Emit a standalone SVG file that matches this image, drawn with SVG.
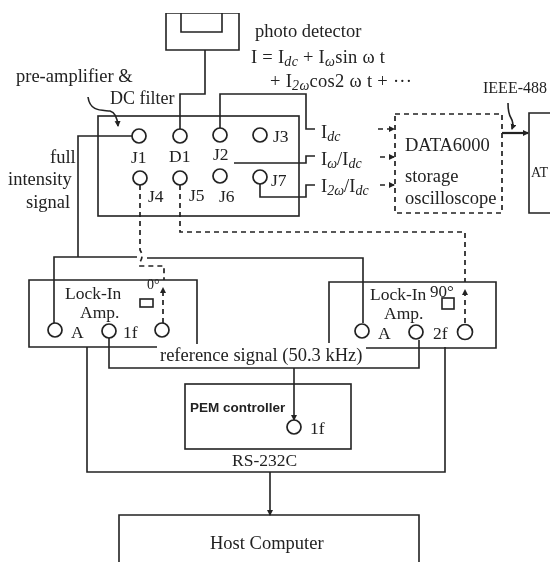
<svg xmlns="http://www.w3.org/2000/svg" width="550" height="562" viewBox="0 0 550 562">
<style>
.l{fill:none;stroke:#222;stroke-width:1.6}
.d{fill:none;stroke:#222;stroke-width:1.7;stroke-dasharray:5 4}
.c{fill:#fff;stroke:#222;stroke-width:1.7}
text{font-family:"Liberation Serif",serif;font-size:18.5px;fill:#222}
.m{font-size:17.5px}
.s{font-size:14px}
.i{font-style:italic;font-size:14px}
.pem{font-family:"Liberation Sans",sans-serif;font-size:13.5px;font-weight:bold}
</style>
<defs>
<filter id="blur" x="0" y="0" width="100%" height="100%"><feGaussianBlur stdDeviation="0.45"/></filter>
<marker id="a" markerWidth="6" markerHeight="7" refX="5" refY="3" orient="auto" markerUnits="userSpaceOnUse"><path d="M0 0L6 3L0 6Z" fill="#222"/></marker>
</defs>
<g filter="url(#blur)">
<g id="boxes-back">
<rect id="main-box" class="l" x="98" y="116" width="201" height="100"/>
</g>
<g id="connectors">
<path class="l" d="M205 50V94H180V129"/>
<path class="l" d="M220 128V94H306V129H315"/>
<path class="l" d="M234 163H306V156H315"/>
<path class="l" d="M260 184V197H306V185H315"/>
<path class="l" d="M132 136H78V257"/>
<path class="l" d="M54 323V257H137M147 258H363V323"/>
<path class="l" d="M109 338V368H419V340"/>
<path class="l" d="M294 368V420" marker-end="url(#a)"/>
<path class="l" d="M87 347V472H445V347"/>
<path class="l" d="M270 472V515" marker-end="url(#a)"/>
<path class="d" d="M140 185V250Q144 256 140 262V266H164V280"/>
<path class="d" d="M163 323V288" marker-end="url(#a)"/>
<path class="d" d="M180 185V232H465V282"/>
<path class="d" d="M465 323V290" marker-end="url(#a)"/>
<path class="d" d="M378 129H394" marker-end="url(#a)"/>
<path class="d" d="M380 157H394" marker-end="url(#a)"/>
<path class="d" d="M380 185H394" marker-end="url(#a)"/>
<path class="l" d="M502 133H528" style="stroke-width:2.2" marker-end="url(#a)"/>
<path class="l" d="M508 103Q508 113 511 118T512 129" marker-end="url(#a)"/>
<path class="l" d="M88 97C90 112 102 110 110 111Q117 113 118 126" marker-end="url(#a)"/>
</g>
<g id="photo-detector">
<path class="l" d="M166 13H239V50H166Z"/>
<path class="l" d="M181 13V32H222V13"/>
<text x="255" y="37">photo detector</text>
<text x="251" y="63" textLength="134">I = I<tspan class="i" dy="3">dc</tspan><tspan dy="-3"> + I</tspan><tspan class="i" dy="3">ω</tspan><tspan dy="-3">sin ω t</tspan></text>
<text x="270" y="87" textLength="142">+ I<tspan class="i" dy="3">2ω</tspan><tspan dy="-3">cos2 ω t  +  ···</tspan></text>
</g>
<g id="preamp">
<text x="16" y="82">pre-amplifier &amp;</text>
<text x="110" y="104" style="font-size:18px">DC filter</text>
<circle class="c" cx="139" cy="136" r="7"/><text class="m" x="131" y="163">J1</text>
<circle class="c" cx="180" cy="136" r="7"/><text class="m" x="169" y="162">D1</text>
<circle class="c" cx="220" cy="135" r="7"/><text class="m" x="213" y="160">J2</text>
<circle class="c" cx="260" cy="135" r="7"/><text class="m" x="273" y="142">J3</text>
<circle class="c" cx="140" cy="178" r="7"/><text class="m" x="148" y="202">J4</text>
<circle class="c" cx="180" cy="178" r="7"/><text class="m" x="189" y="201">J5</text>
<circle class="c" cx="220" cy="176" r="7"/><text class="m" x="219" y="202">J6</text>
<circle class="c" cx="260" cy="177" r="7"/><text class="m" x="271" y="186">J7</text>
<text x="50" y="163">full</text>
<text x="8" y="185">intensity</text>
<text x="26" y="208">signal</text>
</g>
<g id="signals">
<text x="321" y="138">I<tspan class="i" dy="3">dc</tspan></text>
<text x="321" y="165">I<tspan class="i" dy="3">ω</tspan><tspan dy="-3">/I</tspan><tspan class="i" dy="3">dc</tspan></text>
<text x="321" y="192">I<tspan class="i" dy="3">2ω</tspan><tspan dy="-3">/I</tspan><tspan class="i" dy="3">dc</tspan></text>
</g>
<g id="oscilloscope">
<rect class="d" x="395" y="114" width="107" height="99" fill="none"/>
<text x="405" y="151">DATA6000</text>
<text x="405" y="182">storage</text>
<text x="405" y="204">oscilloscope</text>
</g>
<g id="at">
<path class="l" d="M550 113H529V213H550"/>
<text x="531" y="177" style="font-size:14px">AT</text>
<text x="483" y="93" style="font-size:16px">IEEE-488</text>
</g>
<g id="lockin-left">
<path class="l" d="M157 347H29V280H197V344"/>
<text class="m" x="65" y="299">Lock-In</text>
<text class="m" x="80" y="318">Amp.</text>
<text x="147" y="289" class="s">0°</text>
<rect class="l" x="140" y="299" width="13" height="8"/>
<circle class="c" cx="55" cy="330" r="7"/><text class="m" x="71" y="338">A</text>
<circle class="c" cx="109" cy="331" r="7"/><text class="m" x="123" y="338">1f</text>
<circle class="c" cx="162" cy="330" r="7"/>
</g>
<g id="lockin-right">
<path class="l" d="M329 343V282H496V348H366"/>
<text class="m" x="370" y="300">Lock-In</text>
<text class="m" x="384" y="319">Amp.</text>
<text x="430" y="297" style="font-size:17px">90°</text>
<rect class="l" x="442" y="298" width="12" height="11"/>
<circle class="c" cx="362" cy="331" r="7"/><text class="m" x="378" y="339">A</text>
<circle class="c" cx="416" cy="332" r="7"/><text class="m" x="433" y="339">2f</text>
<circle class="c" cx="465" cy="332" r="7.5"/>
</g>
<text id="reference-label" x="160" y="361">reference signal (50.3 kHz)</text>
<g id="pem">
<rect class="l" x="185" y="384" width="166" height="65"/>
<text class="pem" x="190" y="412">PEM controller</text>
<circle class="c" cx="294" cy="427" r="7"/><text class="m" x="310" y="434">1f</text>
</g>
<text id="rs232" x="232" y="466" class="m">RS-232C</text>
<g id="host">
<path class="l" d="M119 562V515H419V562"/>
<text x="210" y="549">Host Computer</text>
</g>
</g>
</svg>
